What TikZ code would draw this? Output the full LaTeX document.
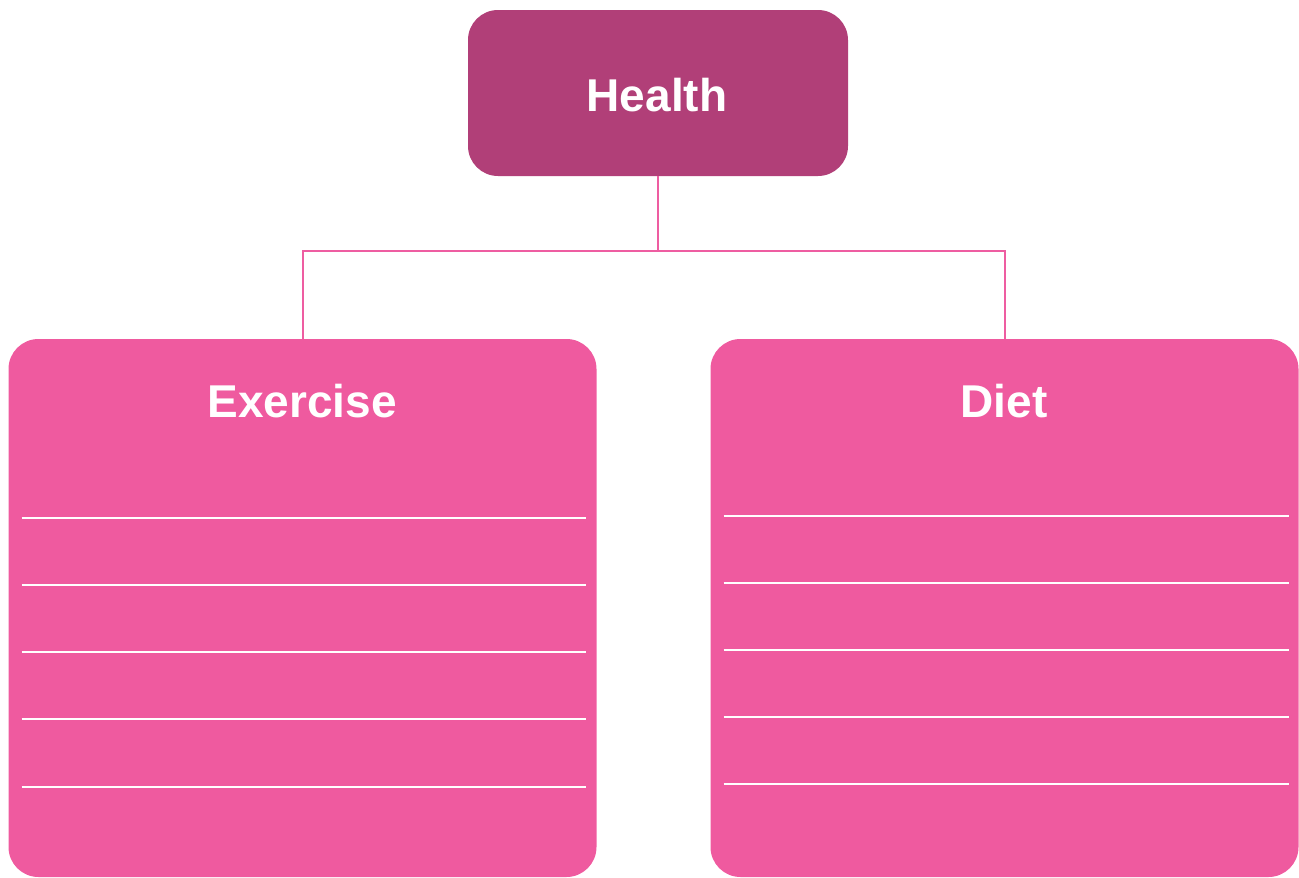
\documentclass[tikz,border=0pt]{standalone}
\usepackage{fontspec}
\setmainfont{Liberation Sans}
\usepackage{tikz}
\usetikzlibrary{positioning}

\definecolor{healthpink}{HTML}{B13F78}
\definecolor{boxpink}{HTML}{EF5A9F}
\definecolor{linkpink}{HTML}{EE5DA1}

\begin{document}
\begin{tikzpicture}[x=1pt,y=-1pt]
	\tikzstyle{top}=[rectangle, rounded corners=30pt, fill=healthpink, inner sep=0pt, outer sep=0pt, minimum width=380pt, minimum height=166pt]
	\tikzstyle{card}=[rectangle, rounded corners=30pt, fill=boxpink, inner sep=0pt, outer sep=0pt, minimum width=588pt, minimum height=538pt]
	\tikzstyle{title}=[text=white, font=\bfseries\fontsize{46}{55}\selectfont, anchor=base, inner sep=0pt]
	\tikzstyle{connect}=[draw=linkpink, line width=2pt]
	\tikzstyle{rule}=[draw=white, line width=2.5pt]
	\useasboundingbox (0,0) rectangle (1299,878);
	\node[top] (health) at (658,93) {};
	\node[card] (exercise) at (302.5,608) {};
	\node[card] (diet) at (1004.5,608) {};
	\node[title] (healthtxt) at (657,111) {Health};
	\node[title] (exercisetxt) at (302,417) {Exercise};
	\node[title] (diettxt) at (1004,417) {Diet};
	\coordinate (split) at (658,251);
	\draw[connect] (health.south) -- (split) -| (exercise.north);
	\draw[connect] (split) -| (diet.north);
	\foreach \d in {179,246,313,380,448}
		\draw[rule] ([xshift=13pt,yshift=-\d pt]exercise.north west) -- ([xshift=-11pt,yshift=-\d pt]exercise.north east);
	\foreach \d in {177,244,311,378,445}
		\draw[rule] ([xshift=13pt,yshift=-\d pt]diet.north west) -- ([xshift=-10pt,yshift=-\d pt]diet.north east);
\end{tikzpicture}
\end{document}
